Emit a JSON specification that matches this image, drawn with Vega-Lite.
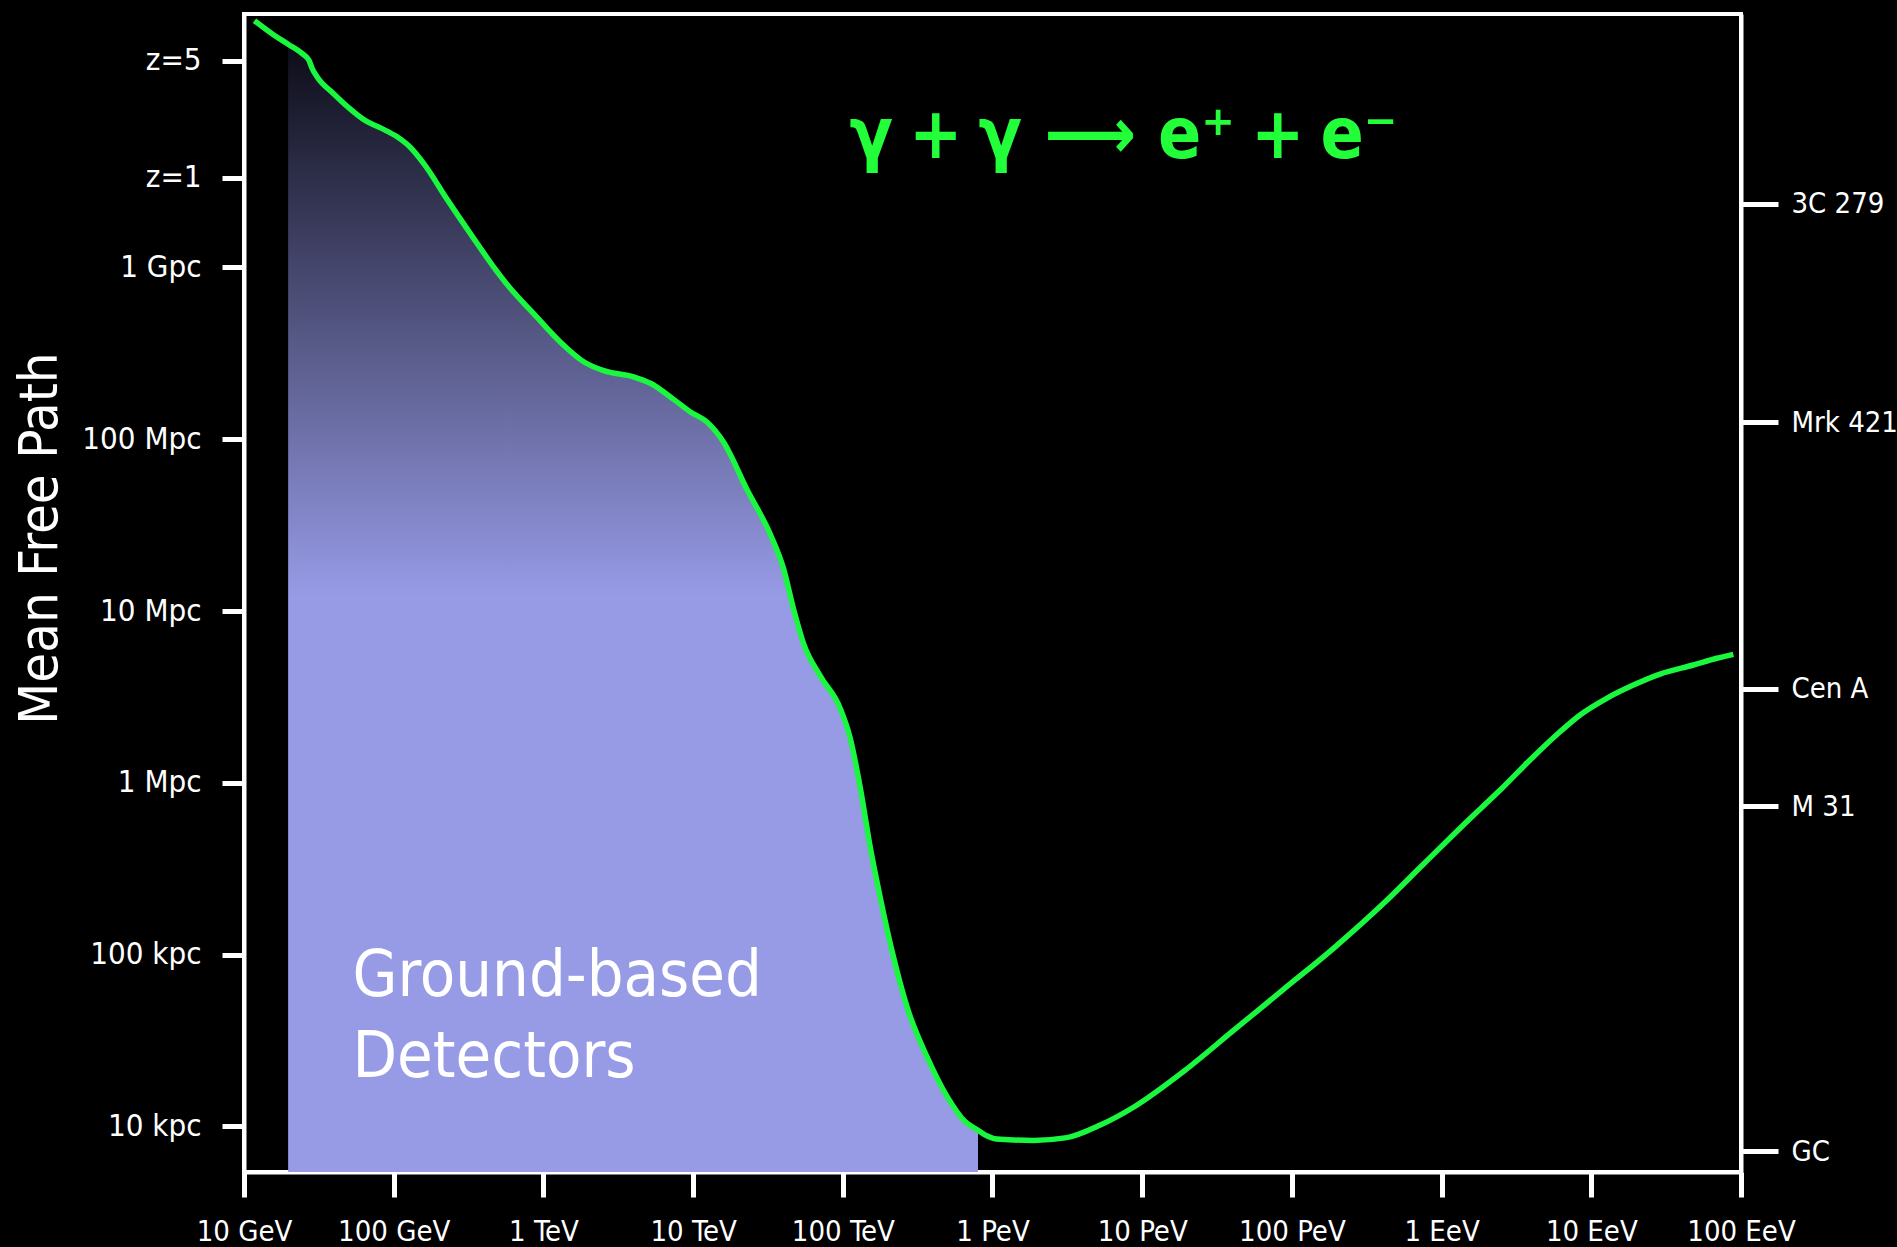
{
  "$schema": "https://vega.github.io/schema/vega-lite/v6.json",
  "width": 1497,
  "height": 1158,
  "autosize": {"type": "none"},
  "padding": {"left": 244, "top": 14, "right": 156, "bottom": 75},
  "background": "black",
  "datasets": {
    "curve": [
      {"E": 11.75, "mfp": 2.729e7},
      {"E": 15.81, "mfp": 2.254e7},
      {"E": 19.72, "mfp": 1.991e7},
      {"E": 24.49, "mfp": 1.754e7},
      {"E": 27.10, "mfp": 1.611e7},
      {"E": 28.51, "mfp": 1.442e7},
      {"E": 30.83, "mfp": 1.282e7},
      {"E": 39.81, "mfp": 1.023e7},
      {"E": 48.87, "mfp": 8.650e6},
      {"E": 64.71, "mfp": 7.145e6},
      {"E": 81.66, "mfp": 6.486e6},
      {"E": 105.4, "mfp": 5.754e6},
      {"E": 129.4, "mfp": 4.989e6},
      {"E": 158.9, "mfp": 4.018e6},
      {"E": 227.5, "mfp": 2.489e6},
      {"E": 342.8, "mfp": 1.472e6},
      {"E": 465.6, "mfp": 1.005e6},
      {"E": 602.6, "mfp": 7.534e5},
      {"E": 861.0, "mfp": 5.383e5},
      {"E": 1300, "mfp": 3.673e5},
      {"E": 1858, "mfp": 2.825e5},
      {"E": 2529, "mfp": 2.506e5},
      {"E": 4009, "mfp": 2.307e5},
      {"E": 5188, "mfp": 2.118e5},
      {"E": 7413, "mfp": 1.706e5},
      {"E": 9594, "mfp": 1.442e5},
      {"E": 12388, "mfp": 1.259e5},
      {"E": 15996, "mfp": 9.594e4},
      {"E": 22909, "mfp": 5.093e4},
      {"E": 32810, "mfp": 2.793e4},
      {"E": 40272, "mfp": 1.754e4},
      {"E": 46881, "mfp": 1.028e4},
      {"E": 54702, "mfp": 6457},
      {"E": 70795, "mfp": 4178},
      {"E": 96161, "mfp": 2710},
      {"E": 112202, "mfp": 1816},
      {"E": 130918, "mfp": 933.3},
      {"E": 152757, "mfp": 418.8},
      {"E": 177828, "mfp": 215.3},
      {"E": 218273, "mfp": 96.6},
      {"E": 268534, "mfp": 49.66},
      {"E": 364754, "mfp": 25.47},
      {"E": 496592, "mfp": 14.96},
      {"E": 657658, "mfp": 10.64},
      {"E": 800000, "mfp": 9.517},
      {"E": 895365, "mfp": 8.913},
      {"E": 1127000, "mfp": 8.414},
      {"E": 1879000, "mfp": 8.299},
      {"E": 3141000, "mfp": 8.610},
      {"E": 5248000, "mfp": 10.19},
      {"E": 8750000, "mfp": 12.94},
      {"E": 1.888e7, "mfp": 20.89},
      {"E": 4.074e7, "mfp": 36.22},
      {"E": 8.790e7, "mfp": 62.81},
      {"E": 1.897e8, "mfp": 108.9},
      {"E": 4.083e8, "mfp": 198.2},
      {"E": 7.551e8, "mfp": 335.7},
      {"E": 1.472e9, "mfp": 594.3},
      {"E": 2.460e9, "mfp": 907.8},
      {"E": 4.102e9, "mfp": 1419},
      {"E": 6.180e9, "mfp": 1982},
      {"E": 8.414e9, "mfp": 2483},
      {"E": 1.268e10, "mfp": 3105},
      {"E": 1.910e10, "mfp": 3707},
      {"E": 2.877e10, "mfp": 4295},
      {"E": 4.808e10, "mfp": 4853},
      {"E": 6.887e10, "mfp": 5309},
      {"E": 8.892e10, "mfp": 5598}
    ]
  },
  "data": {"name": "curve"},
  "layer": [
    {
      "transform": [{"filter": "datum.E >= 19.7 && datum.E <= 800001"}],
      "mark": {
        "type": "area",
        "interpolate": "monotone",
        "color": {
          "gradient": "linear",
          "x1": 0, "y1": 0, "x2": 0, "y2": 1,
          "stops": [
            {"offset": 0, "color": "#0c0c18"},
            {"offset": 0.49, "color": "#979be6"},
            {"offset": 1, "color": "#979be6"}
          ]
        }
      },
      "encoding": {
        "x": {
          "field": "E", "type": "quantitative",
          "scale": {"type": "log", "domain": [10, 1e11]},
          "axis": {
            "orient": "bottom",
            "values": [10, 100, 1000, 10000, 100000, 1000000, 10000000, 100000000, 1000000000, 10000000000, 100000000000],
            "labelExpr": "datum.value < 50 ? '10 GeV' : datum.value < 500 ? '100 GeV' : datum.value < 5e3 ? '1 TeV' : datum.value < 5e4 ? '10 TeV' : datum.value < 5e5 ? '100 TeV' : datum.value < 5e6 ? '1 PeV' : datum.value < 5e7 ? '10 PeV' : datum.value < 5e8 ? '100 PeV' : datum.value < 5e9 ? '1 EeV' : datum.value < 5e10 ? '10 EeV' : '100 EeV'",
            "tickSize": 25,
            "labelPadding": 20,
            "labelFontSize": 29,
            "labelAlign": "center",
            "labelBaseline": "top",
            "title": null
          }
        },
        "y": {
          "field": "mfp", "type": "quantitative",
          "scale": {"type": "log", "domain": [5.433, 2.985e7]},
          "axis": {
            "orient": "right",
            "values": [2350000, 125400, 3524, 733, 7.19],
            "labelExpr": "datum.value > 1e6 ? '3C 279' : datum.value > 1e5 ? 'Mrk 421' : datum.value > 1e3 ? 'Cen A' : datum.value > 100 ? 'M 31' : 'GC'",
            "tickSize": 37,
            "labelPadding": 13,
            "labelFontSize": 29,
            "labelAlign": "left",
            "labelBaseline": "middle",
            "title": null
          }
        },
        "y2": {"datum": 5.433}
      }
    },
    {
      "mark": {"type": "line", "interpolate": "monotone", "color": "#19f73e", "strokeWidth": 5.5},
      "encoding": {
        "x": {"field": "E", "type": "quantitative", "scale": {"type": "log", "domain": [10, 1e11]}},
        "y": {
          "field": "mfp", "type": "quantitative",
          "scale": {"type": "log", "domain": [5.433, 2.985e7]},
          "axis": {
            "orient": "left",
            "values": [15900000, 3328000, 1000000, 100000, 10000, 1000, 100, 10],
            "labelExpr": "datum.value > 1e7 ? 'z=5' : datum.value > 2e6 ? 'z=1' : datum.value >= 1e6 ? '1 Gpc' : datum.value >= 1e3 ? format(datum.value / 1e3, 'd') + ' Mpc' : format(datum.value, 'd') + ' kpc'",
            "tickSize": 22,
            "labelPadding": 21,
            "labelFontSize": 31,
            "labelBaseline": "middle",
            "title": "Mean Free Path",
            "titleFontSize": 54,
            "titleAngle": 270,
            "titleX": -188,
            "titleY": 524,
            "titleAlign": "center",
            "titleBaseline": "alphabetic"
          }
        }
      }
    },
    {
      "data": {"values": [{"E": 7499000, "mfp": 4335000, "label": "γ\u2005+\u2005γ ⟶ e⁺\u2005+\u2005e⁻"}]},
      "mark": {
        "type": "text",
        "font": "DejaVu Sans Condensed, DejaVu Sans, sans-serif",
        "fontSize": 71,
        "fontWeight": "bold",
        "color": "#22ff3a",
        "align": "center",
        "baseline": "alphabetic"
      },
      "encoding": {
        "x": {"field": "E", "type": "quantitative", "scale": {"type": "log", "domain": [10, 1e11]}},
        "y": {"field": "mfp", "type": "quantitative", "scale": {"type": "log", "domain": [5.433, 2.985e7]}, "axis": null},
        "text": {"field": "label"}
      }
    },
    {
      "data": {"values": [{"E": 53.0, "mfp": 57.4, "label": "Ground-based\nDetectors"}]},
      "mark": {
        "type": "text",
        "font": "DejaVu Sans Condensed, Roboto, sans-serif",
        "fontSize": 64.5,
        "color": "white",
        "align": "left",
        "baseline": "alphabetic",
        "lineBreak": "\n",
        "lineHeight": 80.7
      },
      "encoding": {
        "x": {"field": "E", "type": "quantitative", "scale": {"type": "log", "domain": [10, 1e11]}},
        "y": {"field": "mfp", "type": "quantitative", "scale": {"type": "log", "domain": [5.433, 2.985e7]}, "axis": null},
        "text": {"field": "label"}
      }
    }
  ],
  "resolve": {"axis": {"y": "independent"}},
  "config": {
    "background": "black",
    "view": {"stroke": "white", "strokeWidth": 4},
    "axis": {
      "domain": true,
      "domainColor": "white",
      "domainWidth": 4,
      "tickColor": "white",
      "tickWidth": 5,
      "labelColor": "white",
      "titleColor": "white",
      "grid": false,
      "zindex": 1,
      "labelFont": "DejaVu Sans Condensed, Roboto, sans-serif",
      "titleFont": "DejaVu Sans Condensed, Roboto, sans-serif",
      "titleFontWeight": "normal",
      "labelOverlap": false,
      "labelFlush": false,
      "labelBound": false
    }
  }
}
